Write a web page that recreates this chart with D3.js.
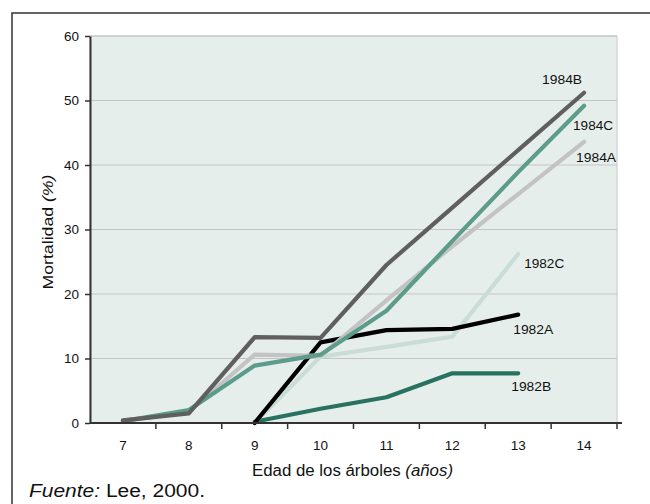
<!DOCTYPE html>
<html>
<head>
<meta charset="utf-8">
<script src="https://cdn.jsdelivr.net/npm/d3@7"></script>
<style>
  body { margin: 0; background: #fff; }
  svg text { font-family: "Liberation Sans", Arial, sans-serif; fill: #111; }
</style>
</head>
<body>
<div id="chart"></div>
<script>
// ages on the x axis (categories)
var ages = [7, 8, 9, 10, 11, 12, 13, 14];
var yTicks = [0, 10, 20, 30, 40, 50, 60];

// series values, mortality % by tree age
var ages1984 = [7, 8, 9, 10, 11, 12, 13, 14];
var s1984A = [0.3, 1.7, 10.6, 10.4, 19.0, 27.4, 35.5, 43.6];
var s1984B = [0.4, 1.5, 13.3, 13.2, 24.5, 33.4, 42.3, 51.2];
var s1984C = [0.3, 2.0, 8.9, 10.6, 17.4, 28.2, 38.9, 49.2];

var ages1982 = [9, 10, 11, 12, 13];
var s1982A = [0.0, 12.5, 14.4, 14.6, 16.8];
var s1982B = [0.2, 2.2, 4.0, 7.7, 7.7];
var s1982C = [0.0, 10.3, 11.8, 13.4, 26.2];

var series = [
    { name: "1982C", x: ages1982, y: s1982C, color: "#c9ddd6" },
    { name: "1982B", x: ages1982, y: s1982B, color: "#287262" },
    { name: "1982A", x: ages1982, y: s1982A, color: "#000000" },
    { name: "1984A", x: ages1984, y: s1984A, color: "#c3c3c3" },
    { name: "1984C", x: ages1984, y: s1984C, color: "#5d9b8a" },
    { name: "1984B", x: ages1984, y: s1984B, color: "#5f5f5f" }
];

// label offsets relative to the last point
var labelPos = {
    "1984B": [-22, -12],
    "1984C": [9, 21],
    "1984A": [12, 17],
    "1982C": [26, 11],
    "1982A": [15, 16],
    "1982B": [13, 14]
};

var width = 650, height = 504;
var margin = { top: 36, left: 90, right: 33, bottom: 81 };
var w = width - margin.left - margin.right,
    h = height - margin.top - margin.bottom;

var svg = d3.select("#chart").append("svg")
    .attr("width", width)
    .attr("height", height);

// outer frame
svg.append("rect")
    .attr("x", 12).attr("y", 13)
    .attr("width", 640).attr("height", 500)
    .attr("fill", "none")
    .attr("stroke", "#333")
    .attr("stroke-width", 1.5);

var g = svg.append("g")
    .attr("transform", "translate(" + margin.left + "," + margin.top + ")");

var x = d3.scaleBand().domain(ages).range([0, w]);
var y = d3.scaleLinear().domain([0, 60]).range([h, 0]);

// plot background
g.append("rect")
    .attr("width", w).attr("height", h)
    .attr("fill", "#e6eeeb")
    .attr("stroke", "#c8c8c8");

// gridlines
g.selectAll(".grid")
    .data(yTicks.slice(1))
    .enter().append("line")
    .attr("class", "grid")
    .attr("x1", 0).attr("x2", w)
    .attr("y1", d => y(d)).attr("y2", d => y(d))
    .attr("stroke", "#c4c4c4");

// lines
var line = d3.line()
    .x(d => x(d[0]) + x.bandwidth() / 2)
    .y(d => y(d[1]));

g.selectAll(".series")
    .data(series)
    .enter().append("path")
    .attr("class", "series")
    .attr("d", d => line(d.x.map((a, i) => [a, d.y[i]])))
    .attr("fill", "none")
    .attr("stroke", d => d.color)
    .attr("stroke-width", 4.2)
    .attr("stroke-linecap", "round")
    .attr("stroke-linejoin", "round");

// series labels
g.selectAll(".slabel")
    .data(series)
    .enter().append("text")
    .attr("class", "slabel")
    .attr("x", d => x(d.x[d.x.length - 1]) + x.bandwidth() / 2 + labelPos[d.name][0])
    .attr("y", d => y(d.y[d.y.length - 1]) + labelPos[d.name][1])
    .attr("text-anchor", "middle")
    .attr("dominant-baseline", "middle")
    .attr("textLength", 40)
    .attr("lengthAdjust", "spacingAndGlyphs")
    .style("font-size", "13px")
    .text(d => d.name);

// y axis
var yAxis = g.append("g")
    .call(d3.axisLeft(y).tickValues(yTicks).tickSize(5).tickSizeOuter(0));
yAxis.select(".domain").attr("stroke", "#333").attr("stroke-width", 2);
yAxis.selectAll(".tick line").attr("stroke", "#333").attr("stroke-width", 1.5);
yAxis.selectAll(".tick text")
    .attr("x", -11)
    .style("font-size", "13.5px")
    .style("font-family", "Liberation Sans, Arial, sans-serif");

// x axis, ticks between categories
var xAxis = g.append("g")
    .attr("transform", "translate(0," + h + ")");
xAxis.append("line")
    .attr("x1", 0).attr("x2", w + 5)
    .attr("stroke", "#333").attr("stroke-width", 2);
xAxis.selectAll(".xtick")
    .data(ages)
    .enter().append("line")
    .attr("class", "xtick")
    .attr("x1", d => x(d) + x.bandwidth()).attr("x2", d => x(d) + x.bandwidth())
    .attr("y1", 0).attr("y2", 6)
    .attr("stroke", "#333").attr("stroke-width", 1.5);
xAxis.selectAll(".xlabel")
    .data(ages)
    .enter().append("text")
    .attr("class", "xlabel")
    .attr("x", d => x(d) + x.bandwidth() / 2)
    .attr("y", 27)
    .attr("text-anchor", "middle")
    .style("font-size", "13.5px")
    .text(d => d);

// axis titles
var yt = svg.append("text")
    .attr("transform", "translate(53,232) rotate(-90)")
    .attr("text-anchor", "middle")
    .attr("textLength", 115)
    .attr("lengthAdjust", "spacingAndGlyphs")
    .style("font-size", "15.5px");
yt.append("tspan").text("Mortalidad ");
yt.append("tspan").style("font-style", "italic").text("(%)");

var xt = svg.append("text")
    .attr("x", 252)
    .attr("y", 476)
    .attr("textLength", 201)
    .attr("lengthAdjust", "spacingAndGlyphs")
    .style("font-size", "16px");
xt.append("tspan").text("Edad de los árboles ");
xt.append("tspan").style("font-style", "italic").text("(años)");

// source
var src = svg.append("text")
    .attr("x", 29)
    .attr("y", 497)
    .attr("textLength", 176)
    .attr("lengthAdjust", "spacingAndGlyphs")
    .style("font-size", "18px");
src.append("tspan").style("font-style", "italic").text("Fuente:");
src.append("tspan").text(" Lee, 2000.");
</script>
</body>
</html>
